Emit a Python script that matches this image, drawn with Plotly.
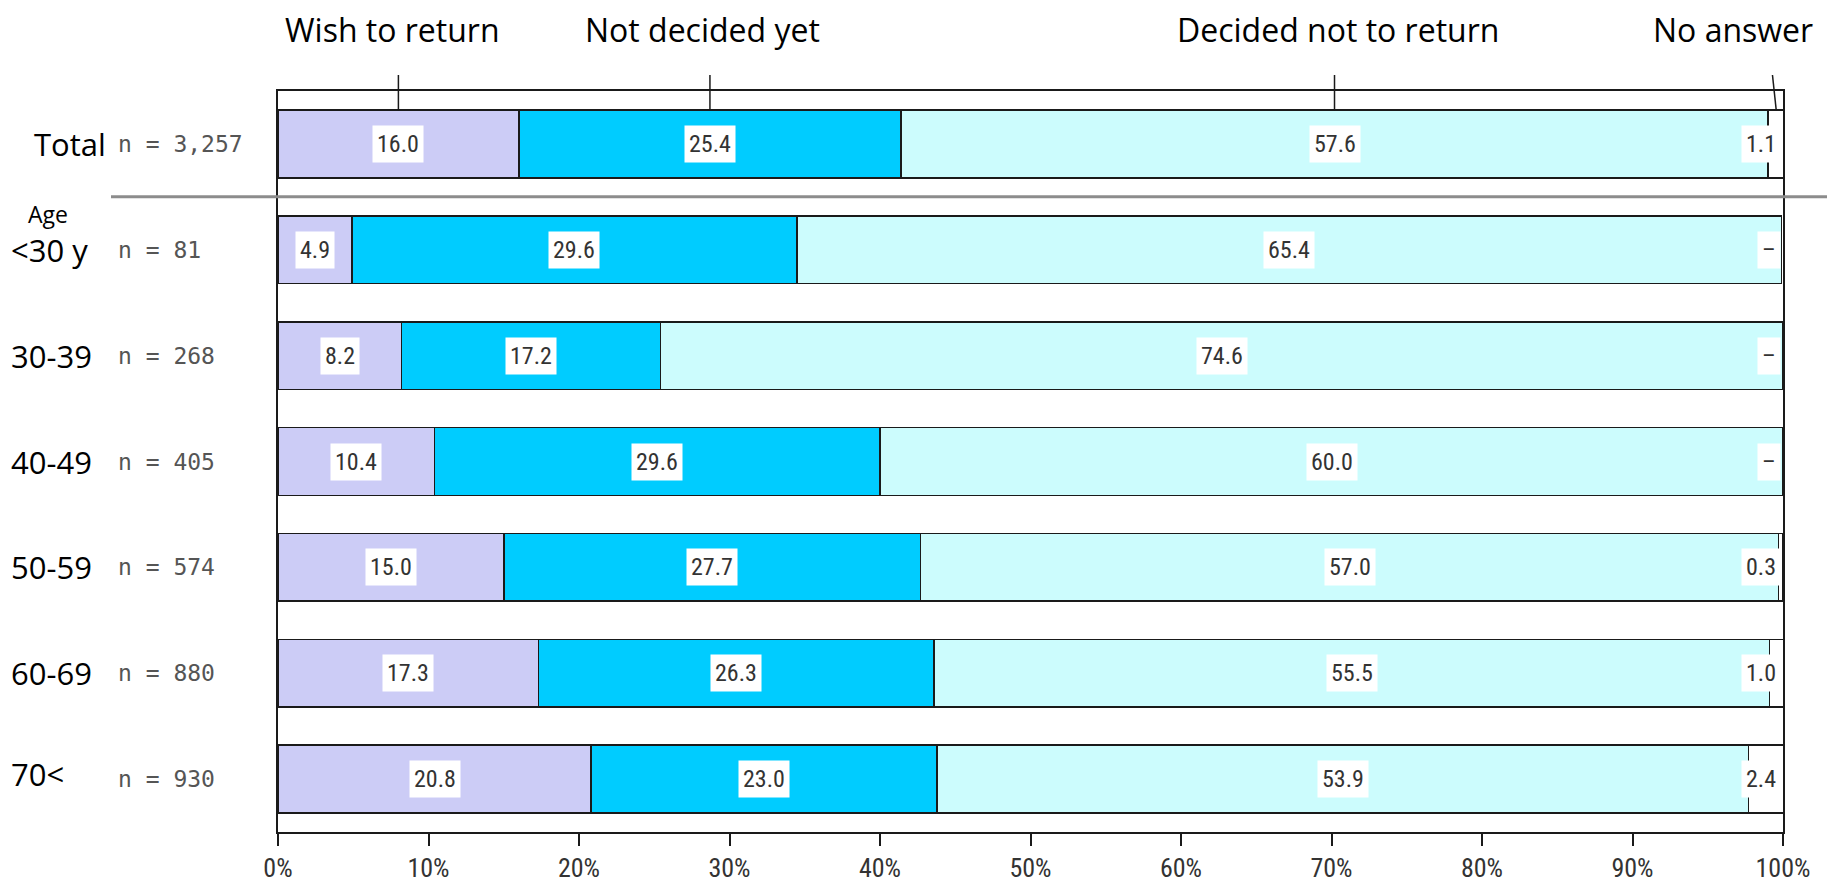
import plotly.graph_objects as go

rows = ["Total", "<30 y", "30-39", "40-49", "50-59", "60-69", "70<"]
n_labels = ["n = 3,257", "n = 81", "n = 268", "n = 405", "n = 574", "n = 880", "n = 930"]
series_names = ["Wish to return", "Not decided yet", "Decided not to return", "No answer"]
wish = [16.0, 4.9, 8.2, 10.4, 15.0, 17.3, 20.8]
undecided = [25.4, 29.6, 17.2, 29.6, 27.7, 26.3, 23.0]
decided = [57.6, 65.4, 74.6, 60.0, 57.0, 55.5, 53.9]
no_answer = [1.1, 0.0, 0.0, 0.0, 0.3, 1.0, 2.4]
x_ticks = [0, 10, 20, 30, 40, 50, 60, 70, 80, 90, 100]
x_tick_text = [f"{v}%" for v in x_ticks]

colors = ["#ccccf6", "#00ccff", "#ccfcfd", "#ffffff"]
series = [wish, undecided, decided, no_answer]
ypos = list(range(len(rows)))
BARW = 0.64
NROW = len(rows)

NUMFONT = "Liberation Sans Narrow, Arial Narrow, Roboto Condensed, DejaVu Sans Condensed, sans-serif"
LABFONT = "Open Sans, Noto Sans, sans-serif"

fig = go.Figure()
for name, vals, col in zip(series_names, series, colors):
    fig.add_trace(go.Bar(
        y=ypos, x=vals, orientation="h", name=name, width=BARW,
        marker=dict(color=col, line=dict(color="#1a1a1a", width=1.5)),
        showlegend=False, hoverinfo="x+name",
    ))

ann = []
# value labels
for i in ypos:
    base = 0.0
    for k, vals in enumerate(series):
        v = vals[i]
        if k < 3:
            ann.append(dict(x=base + v / 2, y=i, xref="x", yref="y", text=f"{v:.1f}",
                            showarrow=False, bgcolor="white", borderpad=4,
                            font=dict(family=NUMFONT, size=24, color="#333333")))
        else:
            ann.append(dict(x=100, y=i, xref="x", yref="y", xanchor="right", xshift=-2,
                            text=(f"{v:.1f}" if v > 0 else "–"),
                            showarrow=False, bgcolor="white", borderpad=4,
                            font=dict(family=NUMFONT, size=24, color="#333333")))
        base += v

# row labels
for i, (r, nl) in enumerate(zip(rows, n_labels)):
    lx = (32 - 278) / 1505 if i == 0 else (9 - 278) / 1505
    ann.append(dict(x=lx, y=i, xref="paper", yref="y", xanchor="left", text=r,
                    showarrow=False, yshift=(5 if r == "70<" else 0),
                    font=dict(family=LABFONT, size=31, color="#000000")))
    ann.append(dict(x=(116 - 278) / 1505, y=i, xref="paper", yref="y", xanchor="left", text=nl,
                    showarrow=False, font=dict(family="DejaVu Sans Mono, monospace", size=23, color="#555555")))
ann.append(dict(x=(26 - 278) / 1505, y=0.66, xref="paper", yref="y", xanchor="left", text="Age",
                showarrow=False, font=dict(family=LABFONT, size=23, color="#000000")))

# header labels and leader lines
shapes = []
cum = 0.0
header_shift = [-6, -7, 3, -43]
bar_top_paper = 1 - (0.5 - BARW / 2) / NROW
line_top_paper = 1 + (91 - 75) / 741
for k, vals in enumerate(series):
    v = vals[0]
    cx = cum + v / 2
    cum += v
    x_top = cx - (0.25 if k == 3 else 0)
    shapes.append(dict(type="line", xref="x", yref="paper", x0=cx, x1=x_top,
                       y0=bar_top_paper, y1=line_top_paper, line=dict(color="#1a1a1a", width=1.5)))
    ann.append(dict(x=cx, y=1 + (91 - 29) / 741, xref="x", yref="paper", xshift=header_shift[k],
                    yanchor="middle", xanchor="center",
                    text=series_names[k], showarrow=False,
                    font=dict(family=LABFONT, size=32, color="#000000")))

# separator
shapes.append(dict(type="line", xref="paper", yref="y", x0=(111 - 278) / 1505, x1=(1827 - 278) / 1505,
                   y0=0.5, y1=0.5, line=dict(color="#8c8c8c", width=3)))

fig.update_layout(
    width=1833, height=888,
    margin=dict(l=278, r=50, t=91, b=56, autoexpand=False),
    paper_bgcolor="white", plot_bgcolor="white",
    barmode="stack",
    annotations=ann, shapes=shapes,
    xaxis=dict(range=[0, 100], tickvals=x_ticks, ticktext=x_tick_text,
               showline=True, linecolor="#1a1a1a", linewidth=1.5, mirror=True,
               ticks="outside", ticklen=12, tickcolor="#1a1a1a", tickwidth=1.5,
               showgrid=False, zeroline=False, ticklabelstandoff=0, automargin=False,
               tickfont=dict(family=NUMFONT, size=26, color="#333333")),
    yaxis=dict(range=[NROW - 0.5, -0.5], showticklabels=False, automargin=False,
               showline=True, linecolor="#1a1a1a", linewidth=1.5, mirror=True,
               showgrid=False, zeroline=False, ticks=""),
)

fig.write_html("out.html")
